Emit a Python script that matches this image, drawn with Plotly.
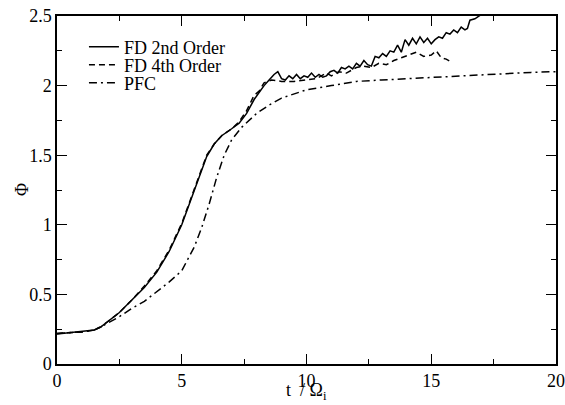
import plotly.graph_objects as go

# Growth of the fluctuation amplitude Phi versus normalised time t / Omega_i
t_fd2 = [0.0, 0.5, 1.0, 1.5, 1.75, 2.0, 2.5, 3.0, 3.5, 4.0, 4.5, 5.0, 5.5, 6.0, 6.3,
         6.6, 7.0, 7.3, 7.6, 7.9, 8.1, 8.3, 8.5, 8.7, 8.85,
         9.0, 9.15, 9.3, 9.45, 9.6, 9.75, 9.9, 10.05, 10.2, 10.35, 10.5, 10.65,
         10.8, 10.95, 11.1, 11.25, 11.4, 11.55, 11.7, 11.85, 12.0, 12.15, 12.3,
         12.45, 12.6, 12.75, 12.9, 13.05, 13.2, 13.35, 13.5, 13.65, 13.8, 13.95,
         14.1, 14.25, 14.4, 14.55, 14.7, 14.85, 15.0, 15.15, 15.3, 15.45, 15.6,
         15.75, 15.9, 16.05, 16.2, 16.35, 16.45, 16.55, 16.75, 17.0]
phi_fd2 = [0.215, 0.225, 0.23, 0.245, 0.265, 0.30, 0.37, 0.46, 0.55, 0.66, 0.81,
           1.00, 1.25, 1.49, 1.58, 1.64, 1.69, 1.73, 1.80, 1.90, 1.95, 2.00, 2.04,
           2.08, 2.10,
           2.05, 2.04, 2.07, 2.05, 2.08, 2.05, 2.07, 2.06, 2.09, 2.06, 2.08, 2.06,
           2.07, 2.10, 2.11, 2.09, 2.13, 2.12, 2.14, 2.12, 2.16, 2.14, 2.18, 2.15,
           2.14, 2.21, 2.20, 2.23, 2.21, 2.25, 2.24, 2.29, 2.24, 2.33, 2.29, 2.34,
           2.30, 2.35, 2.31, 2.34, 2.30, 2.33, 2.35, 2.34, 2.38, 2.37, 2.40, 2.38,
           2.42, 2.40, 2.41, 2.47, 2.48, 2.51]

t_fd4 = [0.0, 0.5, 1.0, 1.5, 1.75, 2.0, 2.5, 3.0, 3.5, 4.0, 4.5, 5.0, 5.5, 6.0, 6.3,
         6.6, 7.0, 7.3, 7.6, 7.9, 8.1, 8.3, 8.6, 9.0, 9.5, 10.0, 10.4, 10.8, 11.0,
         11.3, 11.6, 12.0, 12.3, 12.6, 12.9, 13.2, 13.5, 13.8, 14.1, 14.4, 14.7,
         15.0, 15.2, 15.4, 15.6, 15.8]
phi_fd4 = [0.22, 0.225, 0.23, 0.245, 0.265, 0.30, 0.37, 0.46, 0.56, 0.67, 0.82,
           1.01, 1.26, 1.50, 1.58, 1.64, 1.69, 1.74, 1.82, 1.93, 1.96, 2.02, 2.04,
           2.03, 2.03, 2.04, 2.05, 2.09, 2.07, 2.10, 2.09, 2.13, 2.14, 2.13, 2.16,
           2.15, 2.18, 2.20, 2.22, 2.24, 2.21, 2.22, 2.25, 2.20, 2.19, 2.17]

t_pfc = [0.0, 0.5, 1.0, 1.5, 1.75, 2.0, 2.5, 3.0, 3.5, 4.0, 4.5, 5.0, 5.5, 5.8, 6.1,
         6.4, 6.7, 7.0, 7.4, 8.0, 8.5, 9.0, 9.5, 10.0, 11.0, 12.0, 13.0, 14.0,
         15.0, 16.0, 17.0, 18.0, 19.0, 20.0]
phi_pfc = [0.22, 0.225, 0.23, 0.245, 0.265, 0.29, 0.34, 0.40, 0.45, 0.52, 0.59,
           0.67, 0.84, 0.98, 1.15, 1.34, 1.50, 1.61, 1.70, 1.80, 1.86, 1.91, 1.94,
           1.97, 2.00, 2.03, 2.04, 2.05, 2.06, 2.07, 2.08, 2.09, 2.095, 2.10]

series_names = ["FD 2nd Order", "FD 4th Order", "PFC"]
x_title = "t  / Ω<sub>i</sub>"
y_title = "Φ"

FONT = "Liberation Serif"

fig = go.Figure()
fig.add_trace(go.Scatter(x=t_fd2, y=phi_fd2, mode="lines", name=series_names[0],
                         line=dict(color="black", width=1.5), legend="legend"))
fig.add_trace(go.Scatter(x=t_fd4, y=phi_fd4, mode="lines", name=series_names[1],
                         line=dict(color="black", width=1.5, dash="6px,4px"),
                         legend="legend2"))
fig.add_trace(go.Scatter(x=t_pfc, y=phi_pfc, mode="lines", name=series_names[2],
                         line=dict(color="black", width=1.5, dash="8px,4px,2px,4px"),
                         legend="legend3"))

axis_common = dict(
    showgrid=False, zeroline=False, showline=True, linecolor="black", linewidth=1.5,
    mirror="allticks", ticks="inside", ticklen=10, tickwidth=1.2, tickcolor="black",
    tickfont=dict(family=FONT, size=18, color="black"), automargin=False,
)

legend_common = dict(x=0.054, xanchor="left", yanchor="middle", visible=True,
                     bgcolor="rgba(0,0,0,0)", borderwidth=0,
                     font=dict(family=FONT, size=18, color="black"))

fig.update_layout(
    width=565, height=405,
    margin=dict(l=57, r=9, t=16, b=41, autoexpand=False),
    paper_bgcolor="white", plot_bgcolor="white",
    showlegend=True,
    font=dict(family=FONT, size=18, color="black"),
    xaxis=dict(range=[0, 20], dtick=5, tick0=0,
               minor=dict(dtick=2.5, ticks="inside", ticklen=5, tickcolor="black"),
               **axis_common),
    yaxis=dict(range=[0, 2.5], dtick=0.5, tick0=0,
               minor=dict(dtick=0.25, ticks="inside", ticklen=5, tickcolor="black"),
               **axis_common),
    legend=dict(y=0.911, **legend_common),
    legend2=dict(y=0.859, **legend_common),
    legend3=dict(y=0.807, **legend_common),
    annotations=[
        # axis titles: x title sits on the bottom edge, y title left of the labels
        dict(text=x_title, xref="paper", yref="paper", x=0.5, y=-0.1178,
             xanchor="center", yanchor="bottom", showarrow=False,
             font=dict(family=FONT, size=18, color="black")),
        dict(text=y_title, xref="paper", yref="paper", x=-0.07, y=0.5,
             xanchor="center", yanchor="middle", textangle=-90, showarrow=False,
             font=dict(family=FONT, size=18, color="black")),
    ],
)

fig.write_html("out.html")
